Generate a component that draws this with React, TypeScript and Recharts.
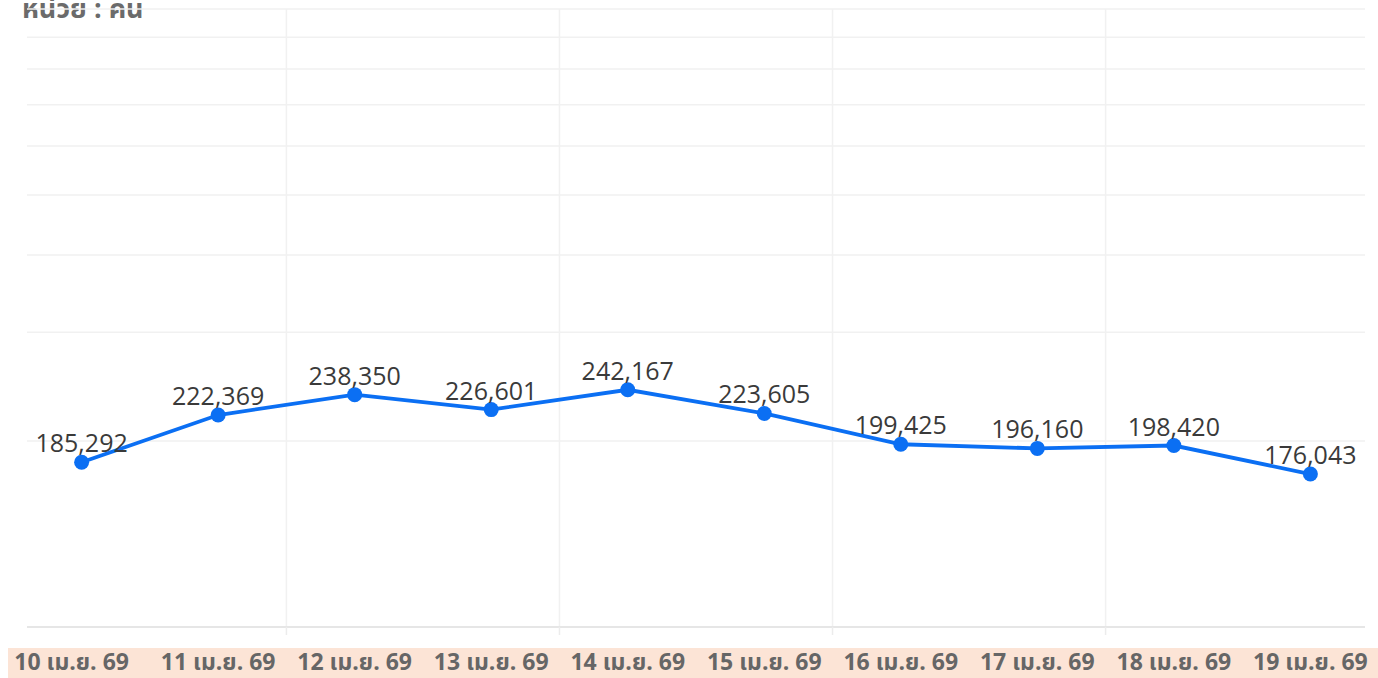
import { LineChart, Line, XAxis, YAxis, LabelList, ReferenceLine } from 'recharts';

const dates = [
  '10 เม.ย. 69',
  '11 เม.ย. 69',
  '12 เม.ย. 69',
  '13 เม.ย. 69',
  '14 เม.ย. 69',
  '15 เม.ย. 69',
  '16 เม.ย. 69',
  '17 เม.ย. 69',
  '18 เม.ย. 69',
  '19 เม.ย. 69',
];
const visitors = [185292, 222369, 238350, 226601, 242167, 223605, 199425, 196160, 198420, 176043];
const dayTicks = [0, 1, 2, 3, 4, 5, 6, 7, 8, 9];
const dividerTicks = [1.5, 3.5, 5.5, 7.5];
// background rules sit on a log scale 1..10
const bgTicks = [2, 3, 4, 5, 6, 7, 8, 9, 10];

const data = visitors.map((v, i) => ({ i, v }));

const thaiFont = '"Noto Sans Thai", "Noto Sans Thai Looped", Inter, "Noto Sans", sans-serif';

function DateTick({ x, y, payload }: any) {
  const idx = payload.value as number;
  return (
    <text
      x={x + (idx === 0 ? -10 : 0)}
      y={y}
      dy={27}
      textAnchor="middle"
      fontFamily={thaiFont}
      fontWeight={700}
      fontSize={23}
      fill="#666666"
    >
      {dates[idx]}
    </text>
  );
}

export default function App() {
  return (
    <div style={{ position: 'absolute', left: 0, top: 0, width: 1378, height: 678, overflow: 'hidden', background: '#fff' }}>
      <div style={{ position: 'absolute', left: 8, top: 648, width: 1370, height: 30, background: '#fce4d6' }} />
      <div
        style={{
          position: 'absolute',
          left: 22,
          top: -4,
          fontFamily: thaiFont,
          fontWeight: 700,
          fontSize: 27,
          lineHeight: 1,
          color: '#6b6b6b',
        }}
      >
        หน่วย : คน
      </div>
      <div style={{ position: 'absolute', left: 0, top: 0 }}>
        <LineChart width={1378} height={678} data={data} margin={{ top: 9, right: 13, left: 27, bottom: 0 }}>
          <XAxis
            xAxisId="grid"
            dataKey="i"
            type="number"
            domain={[-0.4, 9.4]}
            ticks={dividerTicks}
            tick={() => <g />}
            tickSize={8}
            tickLine={{ stroke: '#ececec', strokeWidth: 1.5 }}
            axisLine={{ stroke: '#e6e6e6', strokeWidth: 2 }}
            height={8}
          />
          <XAxis
            xAxisId="lab"
            dataKey="i"
            type="number"
            domain={[-0.4, 9.4]}
            ticks={dayTicks}
            tick={<DateTick />}
            tickLine={false}
            axisLine={false}
            interval={0}
            height={43}
          />
          <YAxis yAxisId="val" hide domain={[56000, 541000]} />
          <YAxis yAxisId="bg" hide type="number" scale="log" domain={[1, 10]} allowDataOverflow />
          {bgTicks.map((t) => (
            <ReferenceLine key={'h' + t} xAxisId="grid" yAxisId="bg" y={t} stroke="#f1f1f1" strokeWidth={1.5} />
          ))}
          {dividerTicks.map((t) => (
            <ReferenceLine key={'v' + t} xAxisId="grid" yAxisId="bg" x={t} stroke="#f1f1f1" strokeWidth={1.5} />
          ))}
          <Line
            xAxisId="lab"
            yAxisId="val"
            type="linear"
            dataKey="v"
            stroke="#0b6ff3"
            strokeWidth={3.8}
            dot={{ r: 7.5, fill: '#0b6ff3', stroke: '#0b6ff3', strokeWidth: 0 }}
            isAnimationActive={false}
          >
            <LabelList
              dataKey="v"
              position="top"
              offset={10}
              formatter={(v: any) => Number(v).toLocaleString('en-US')}
              style={{ fontFamily: '"Open Sans", "Noto Sans", sans-serif', fontSize: 25, fill: '#3a3a3a' }}
            />
          </Line>
        </LineChart>
      </div>
    </div>
  );
}
